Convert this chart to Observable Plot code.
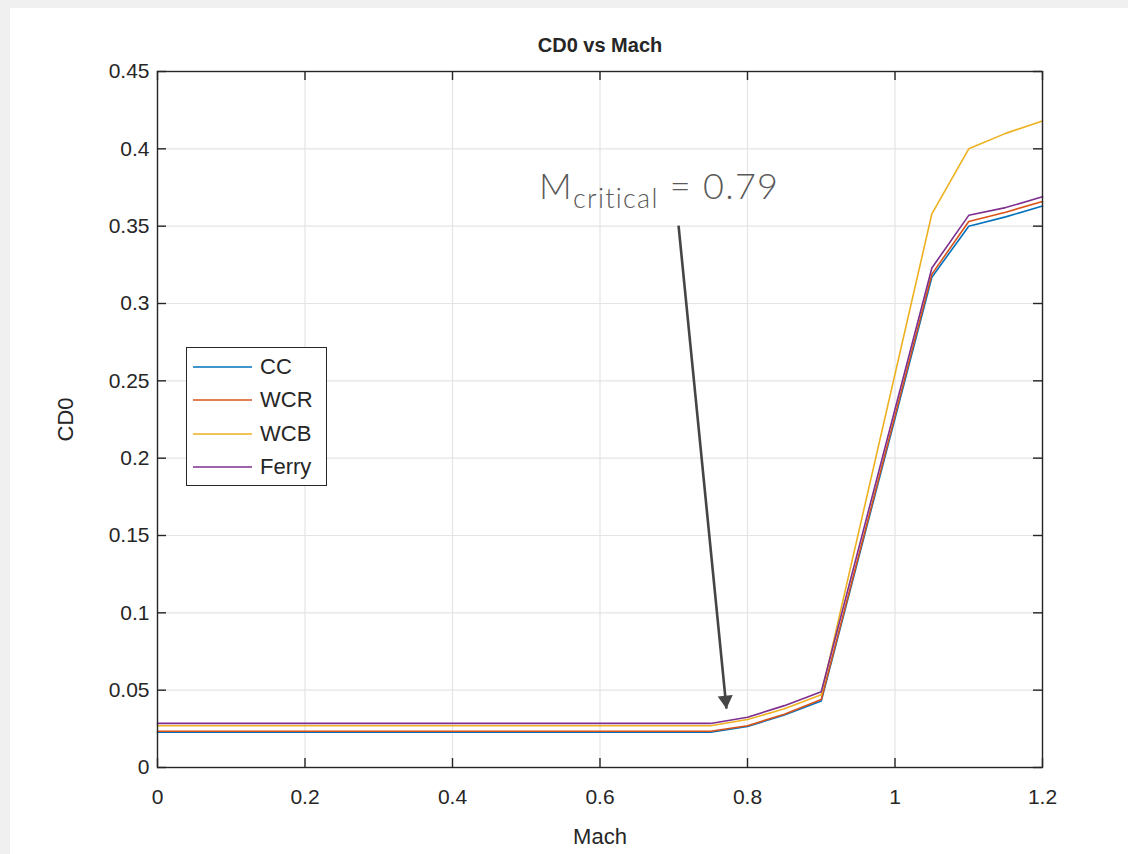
<!DOCTYPE html>
<html><head><meta charset="utf-8">
<script src="https://cdn.jsdelivr.net/npm/d3@7"></script>
<script src="https://cdn.jsdelivr.net/npm/@observablehq/plot@0.6"></script>
<style>
html,body{margin:0;padding:0;background:#f0f0f0;}
#wrap{position:relative;width:1128px;height:854px;overflow:hidden;}
#paper{position:absolute;left:10px;top:8px;right:0;bottom:0;background:#fff;}
#chart{position:absolute;left:0;top:0;}
#legend{position:absolute;left:186px;top:347px;width:139px;height:137px;border:1.4px solid #262626;background:#fff;font-family:"Liberation Sans",Arial,sans-serif;font-size:22px;color:#262626;}
.row{position:absolute;left:0;height:30px;display:flex;align-items:center;}
.row svg{margin-left:6px;margin-right:8px;}
</style></head><body>
<div id="wrap"><div id="paper"></div><div id="chart"></div><div id="legend"></div></div>
<script>
// Data
const mach  = [0, 0.75, 0.8, 0.85, 0.9, 1.05, 1.1, 1.15, 1.2];
const cdCC    = [0.0228, 0.0228, 0.0265, 0.034, 0.043, 0.317, 0.350, 0.356, 0.363];
const cdWCR   = [0.0234, 0.0234, 0.0270, 0.0345, 0.044, 0.319, 0.353, 0.359, 0.366];
const cdWCB   = [0.0270, 0.0270, 0.0310, 0.038, 0.047, 0.358, 0.400, 0.410, 0.418];
const cdFerry = [0.0285, 0.0285, 0.0325, 0.040, 0.049, 0.323, 0.357, 0.362, 0.369];
const seriesNames  = ["CC", "WCR", "WCB", "Ferry"];
const seriesValues = [cdCC, cdWCR, cdWCB, cdFerry];
const seriesColors = ["#0072BD", "#D95319", "#EDB120", "#7E2F8E"];
const xTicks = [0, 0.2, 0.4, 0.6, 0.8, 1, 1.2];
const yTicks = [0, 0.05, 0.1, 0.15, 0.2, 0.25, 0.3, 0.35, 0.4, 0.45];
const titleText = "CD0 vs Mach";
const xLabel = "Mach";
const yLabel = "CD0";
// annotation: text anchor and arrow (data units)
const annotText = ["M", "critical", " = 0.79"];
const annotPos = [0.518, 0.3672];
const arrowFrom = [0.7065, 0.3504];
const arrowTo = [0.7715, 0.0381];

const rows = [];
seriesNames.forEach((s, i) => mach.forEach((m, j) => rows.push({series: s, mach: m, cd0: seriesValues[i][j]})));
const arrow = [{x1: arrowFrom[0], y1: arrowFrom[1], x2: arrowTo[0], y2: arrowTo[1]}];
const fmt = d => String(+d.toFixed(2));

const W = 1128, H = 854, mL = 157, mR = 86, mT = 71, mB = 87;
const pw = W - mL - mR, ph = H - mT - mB;
const ink = "#262626", gridC = "#e4e4e4", tk = 9;
const font = "'Liberation Sans', Arial, sans-serif";

const plot = Plot.plot({
  width: W, height: H,
  marginLeft: mL, marginRight: mR, marginTop: mT, marginBottom: mB,
  style: {background: "transparent", fontFamily: font, fontSize: "21px", color: ink},
  x: {domain: [0, 1.2]},
  y: {domain: [0, 0.45]},
  color: {domain: seriesNames, range: seriesColors},
  marks: [
    Plot.gridX(xTicks, {stroke: gridC, strokeOpacity: 1, strokeWidth: 1.2}),
    Plot.gridY(yTicks, {stroke: gridC, strokeOpacity: 1, strokeWidth: 1.2}),
    Plot.line(rows, {x: "mach", y: "cd0", z: "series", stroke: "series", strokeWidth: 1.6}),
    Plot.link(arrow, {x1: "x1", y1: "y1", x2: "x2", y2: "y2", stroke: "#454545", strokeWidth: 2.6}),
    Plot.dot(arrow, {x: "x2", y: "y2", symbol: "triangle", r: 5.6, fill: "#454545", stroke: "none", rotate: 174.3, dx: -0.85, dy: -8.5}),
    Plot.frame({stroke: ink, strokeWidth: 1.4}),
    Plot.tickX(xTicks, {x: d => d, stroke: ink, strokeWidth: 1.4, insetTop: ph - tk}),
    Plot.tickX(xTicks, {x: d => d, stroke: ink, strokeWidth: 1.4, insetBottom: ph - tk}),
    Plot.tickY(yTicks, {y: d => d, stroke: ink, strokeWidth: 1.4, insetRight: pw - tk}),
    Plot.tickY(yTicks, {y: d => d, stroke: ink, strokeWidth: 1.4, insetLeft: pw - tk}),
    Plot.axisX(xTicks, {anchor: "bottom", tickSize: 0, tickPadding: 22, tickFormat: fmt, fontSize: 21}),
    Plot.axisY(yTicks, {anchor: "left", tickSize: 0, tickPadding: 8, tickFormat: fmt, fontSize: 21}),
    Plot.axisX({anchor: "bottom", ticks: [], label: xLabel, labelAnchor: "center", labelArrow: "none", labelOffset: 76, fontSize: 22}),
    Plot.axisY({anchor: "left", ticks: [], label: yLabel, labelAnchor: "center", labelArrow: "none", labelOffset: 100, fontSize: 22}),
    Plot.text([titleText], {frameAnchor: "top", text: d => d, lineAnchor: "middle", dy: -26, fontWeight: "bold", fontSize: 20, fill: ink})
  ]
});
document.getElementById("chart").appendChild(plot);

// annotation text with subscript
const sx = plot.scale("x"), sy = plot.scale("y");
const svg = d3.select(plot);
const t = svg.append("text")
  .attr("x", sx.apply(annotPos[0])).attr("y", sy.apply(annotPos[1]))
  .attr("text-anchor", "start")
  .attr("fill", "#595959").attr("font-family", "Lato, 'Open Sans', sans-serif").attr("font-weight", 300)
  .attr("font-size", 36).attr("letter-spacing", 1.3);
t.append("tspan").text(annotText[0]);
t.append("tspan").attr("font-size", 27).attr("dy", 9).text(annotText[1]);
t.append("tspan").attr("dy", -9).text(annotText[2]);

// legend
const lg = d3.select("#legend");
seriesNames.forEach((s, i) => {
  const r = lg.append("div").attr("class", "row").style("top", (4 + i * 33.3) + "px");
  const sw = r.append("svg").attr("width", 59).attr("height", 4);
  sw.append("line").attr("x1", 0).attr("x2", 59).attr("y1", 2).attr("y2", 2)
    .attr("stroke", seriesColors[i]).attr("stroke-width", 1.6);
  r.append("span").text(s);
});
</script>
</body></html>
